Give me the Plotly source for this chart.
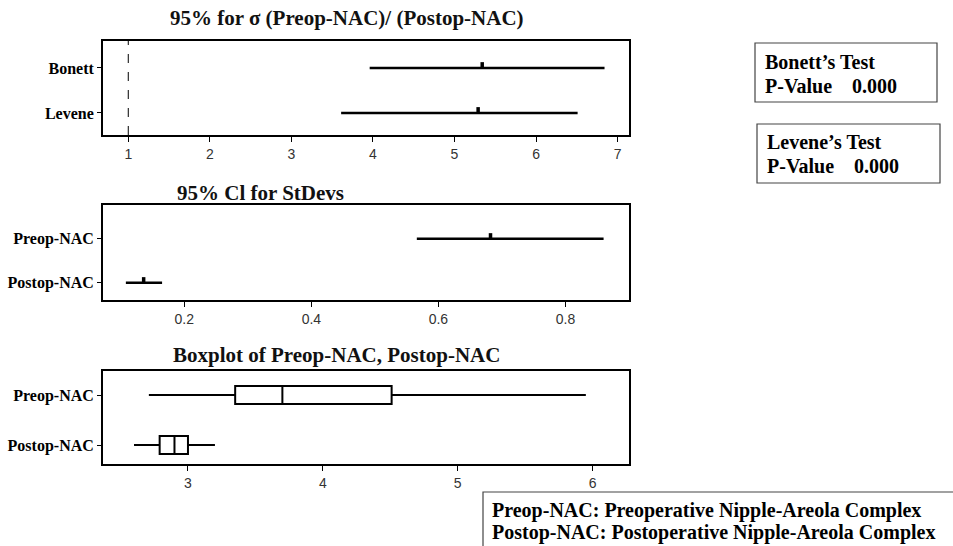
import plotly.graph_objects as go

# ---------------- data ----------------
ratio_tests = ["Levene", "Bonett"]
ratio_lower = [3.61, 3.96]
ratio_upper = [6.51, 6.84]
ratio_est = [5.29, 5.34]
ratio_ref = 1

sd_groups = ["Postop-NAC", "Preop-NAC"]
sd_lower = [0.108, 0.566]
sd_upper = [0.165, 0.860]
sd_est = [0.136, 0.682]

box_groups = ["Postop-NAC", "Preop-NAC"]
box_min = [2.60, 2.71]
box_q1 = [2.79, 3.35]
box_med = [2.90, 3.70]
box_q3 = [3.00, 4.51]
box_max = [3.20, 5.95]

ratio_ticks = [1, 2, 3, 4, 5, 6, 7]
sd_ticks = [0.2, 0.4, 0.6, 0.8]
sd_ticklabels = ["0.2", "0.4", "0.6", "0.8"]
box_ticks = [3, 4, 5, 6]

W, H = 953, 546
SERIF = "Liberation Serif, Times New Roman, serif"
SANS = "Liberation Sans, Arial, sans-serif"

def px_x(p):
    return p / W

def px_y(p):
    return 1 - p / H

fig = go.Figure()

TICKH = [0.13, 0.13]

# Panel 1: ratio CIs
for i, name in enumerate(ratio_tests):
    fig.add_trace(go.Scatter(x=[ratio_lower[i], ratio_upper[i]], y=[i, i], mode="lines",
                             line=dict(color="black", width=2.5), xaxis="x", yaxis="y", showlegend=False))
    fig.add_trace(go.Scatter(x=[ratio_est[i], ratio_est[i]], y=[i, i + TICKH[0]], mode="lines",
                             line=dict(color="black", width=3.5), xaxis="x", yaxis="y", showlegend=False))

# Panel 2: StDev CIs
for i, name in enumerate(sd_groups):
    fig.add_trace(go.Scatter(x=[sd_lower[i], sd_upper[i]], y=[i, i], mode="lines",
                             line=dict(color="black", width=2.5), xaxis="x2", yaxis="y2", showlegend=False))
    fig.add_trace(go.Scatter(x=[sd_est[i], sd_est[i]], y=[i, i + TICKH[1]], mode="lines",
                             line=dict(color="black", width=3.5), xaxis="x2", yaxis="y2", showlegend=False))

# Panel 3: boxplots
for i, name in enumerate(box_groups):
    fig.add_trace(go.Box(orientation="h", y=[i], q1=[box_q1[i]], median=[box_med[i]], q3=[box_q3[i]],
                         lowerfence=[box_min[i]], upperfence=[box_max[i]], width=0.36,
                         fillcolor="white", line=dict(color="black", width=2), whiskerwidth=0,
                         boxpoints=False, xaxis="x3", yaxis="y3", showlegend=False, name=name))

xdom = [px_x(103), px_x(629)]
axis_common = dict(showline=True, mirror=True, linecolor="black", linewidth=2, showgrid=False,
                   zeroline=False, ticks="outside", tickcolor="black", tickwidth=1)
xfont = dict(family=SANS, size=14, color="#333333")
yfont = dict(family=SERIF, size=16, color="black", weight="bold")

fig.update_layout(
    width=W, height=H, margin=dict(l=0, r=0, t=0, b=0),
    paper_bgcolor="white", plot_bgcolor="white",
    xaxis=dict(domain=xdom, range=[0.69, 7.14], tickvals=ratio_ticks, tickfont=xfont, anchor="y",
               ticklen=5, **axis_common),
    yaxis=dict(domain=[px_y(135), px_y(41)], range=[-0.49, 1.6], tickvals=[0, 1], ticktext=ratio_tests,
               tickfont=yfont, anchor="x", ticklen=4, **axis_common),
    xaxis2=dict(domain=xdom, range=[0.072, 0.90], tickvals=sd_ticks, ticktext=sd_ticklabels, tickfont=xfont,
                anchor="y2", ticklen=5, **axis_common),
    yaxis2=dict(domain=[px_y(300), px_y(205)], range=[-0.39, 1.77], tickvals=[0, 1], ticktext=sd_groups,
                tickfont=yfont, anchor="x2", ticklen=4, **axis_common),
    xaxis3=dict(domain=xdom, range=[2.37, 6.27], tickvals=box_ticks, tickfont=xfont, anchor="y3",
                ticklen=5, **axis_common),
    yaxis3=dict(domain=[px_y(464), px_y(371)], range=[-0.38, 1.48], tickvals=[0, 1], ticktext=box_groups,
                tickfont=yfont, anchor="x3", ticklen=4, **axis_common),
)

# reference dashed line at ratio = 1
fig.add_shape(type="line", xref="x", yref="y domain", x0=ratio_ref, x1=ratio_ref, y0=0, y1=1,
              line=dict(color="black", width=1, dash="dash"))

tfont = dict(family=SERIF, size=21, color="#111111", weight="bold")
titles = [
    ("95% for \u03c3 (Preop-NAC)/ (Postop-NAC)", 347, 18),
    ("95% Cl for StDevs", 260, 193),
    ("Boxplot of Preop-NAC, Postop-NAC", 336, 355),
]
for text, cx, cy in titles:
    fig.add_annotation(text=text, xref="paper", yref="paper", x=px_x(cx), y=px_y(cy),
                       xanchor="center", yanchor="middle", showarrow=False, font=tfont)

# Test boxes
boxfont = dict(family=SERIF, size=20, color="black", weight="bold")
boxes = [
    (755, 937, 43, 102, ["Bonett\u2019s Test", "P-Value\u00a0\u00a0\u00a0\u00a00.000"], [62, 86], 763),
    (757, 940, 124, 183, ["Levene\u2019s Test", "P-Value\u00a0\u00a0\u00a0\u00a00.000"], [142, 166], 765),
]
for x0, x1, y0, y1, lines, ys, tx in boxes:
    fig.add_shape(type="rect", xref="paper", yref="paper", x0=px_x(x0), x1=px_x(x1), y0=px_y(y1), y1=px_y(y0),
                  line=dict(color="#444444", width=1.2), fillcolor="rgba(0,0,0,0)")
    for t, yy in zip(lines, ys):
        fig.add_annotation(text=t, xref="paper", yref="paper", x=px_x(tx), y=px_y(yy), xanchor="left",
                           yanchor="middle", showarrow=False, font=boxfont)

# Abbreviation box
fig.add_shape(type="rect", xref="paper", yref="paper", x0=px_x(483), x1=px_x(965), y0=px_y(560), y1=px_y(492),
              line=dict(color="#444444", width=1.2), fillcolor="rgba(0,0,0,0)")
abbr = ["Preop-NAC: Preoperative Nipple-Areola Complex", "Postop-NAC: Postoperative Nipple-Areola Complex"]
for t, yy in zip(abbr, [510, 532]):
    fig.add_annotation(text=t, xref="paper", yref="paper", x=px_x(490), y=px_y(yy), xanchor="left",
                       yanchor="middle", showarrow=False,
                       font=dict(family=SERIF, size=20, color="black", weight="bold"))

fig.write_html("out.html", config={"displayModeBar": False},
               post_script="document.body.style.margin='0';document.body.style.overflow='hidden';")
